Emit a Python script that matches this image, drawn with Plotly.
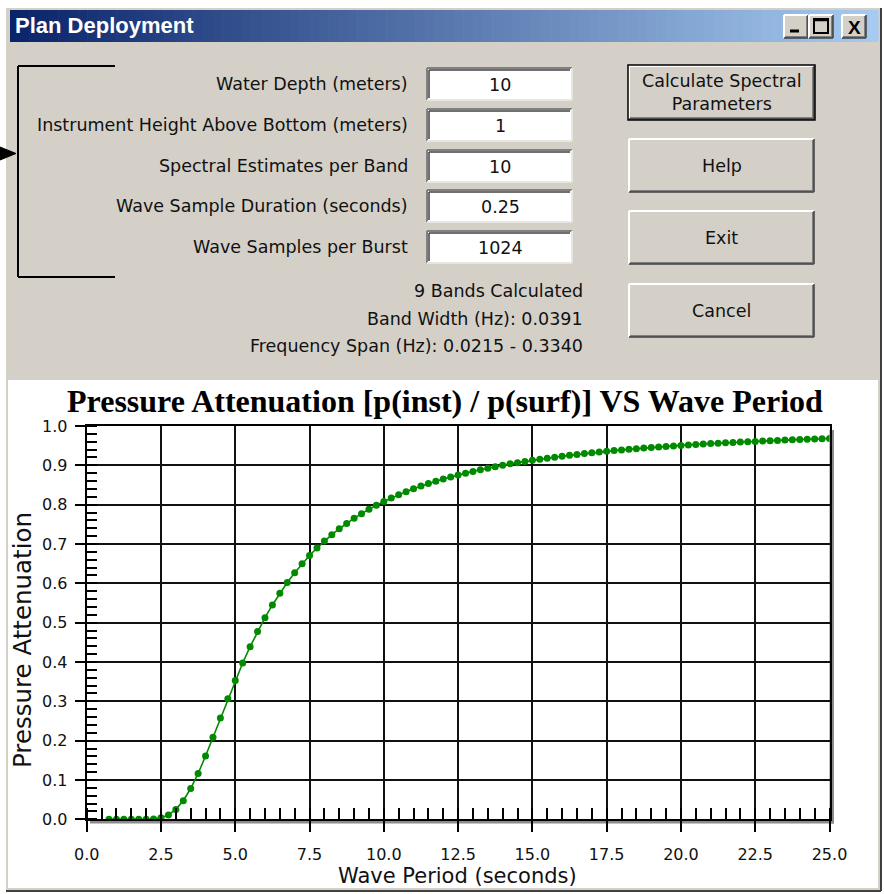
import plotly.graph_objects as go

W, H = 884, 894

# ---------------- data ----------------
periods = [0.75, 1.0, 1.25, 1.5, 1.75, 2.0, 2.25, 2.5, 2.75, 3.0, 3.25, 3.5, 3.75,
           4.0, 4.25, 4.5, 4.75, 5.0, 5.25, 5.5, 5.75, 6.0, 6.25, 6.5, 6.75,
           7.0, 7.25, 7.5, 7.75, 8.0, 8.25, 8.5, 8.75, 9.0, 9.25, 9.5, 9.75,
           10.0, 10.25, 10.5, 10.75, 11.0, 11.25, 11.5, 11.75, 12.0, 12.25, 12.5, 12.75,
           13.0, 13.25, 13.5, 13.75, 14.0, 14.25, 14.5, 14.75, 15.0, 15.25, 15.5, 15.75,
           16.0, 16.25, 16.5, 16.75, 17.0, 17.25, 17.5, 17.75, 18.0, 18.25, 18.5, 18.75,
           19.0, 19.25, 19.5, 19.75, 20.0, 20.25, 20.5, 20.75, 21.0, 21.25, 21.5, 21.75,
           22.0, 22.25, 22.5, 22.75, 23.0, 23.25, 23.5, 23.75, 24.0, 24.25, 24.5, 24.75, 25.0]
attenuation = [0.0, 0.0, 0.0, 0.0, 0.0, 0.0001, 0.0009, 0.0039, 0.0112, 0.0252, 0.0474, 0.0782, 0.1166,
               0.1609, 0.2086, 0.2577, 0.3063, 0.3531, 0.3975, 0.4388, 0.4772, 0.5126, 0.5450, 0.5747, 0.6020,
               0.6267, 0.6497, 0.6706, 0.6897, 0.7076, 0.7237, 0.7388, 0.7524, 0.7652, 0.7772, 0.7884, 0.7987,
               0.8081, 0.8171, 0.8254, 0.8331, 0.8403, 0.8472, 0.8536, 0.8596, 0.8652, 0.8704, 0.8755, 0.8801,
               0.8846, 0.8888, 0.8928, 0.8967, 0.9003, 0.9037, 0.9068, 0.9099, 0.9129, 0.9156, 0.9182, 0.9207,
               0.9232, 0.9255, 0.9277, 0.9299, 0.9319, 0.9338, 0.9357, 0.9375, 0.9392, 0.9408, 0.9424, 0.9439,
               0.9453, 0.9467, 0.9481, 0.9494, 0.9506, 0.9519, 0.9530, 0.9541, 0.9552, 0.9562, 0.9572, 0.9582,
               0.9591, 0.9601, 0.9609, 0.9618, 0.9626, 0.9634, 0.9642, 0.9649, 0.9656, 0.9663, 0.9670, 0.9677, 0.9683]

x_tick_vals = [0, 2.5, 5, 7.5, 10, 12.5, 15, 17.5, 20, 22.5, 25]
x_tick_text = ["0.0", "2.5", "5.0", "7.5", "10.0", "12.5", "15.0", "17.5", "20.0", "22.5", "25.0"]
y_tick_vals = [0, 0.1, 0.2, 0.3, 0.4, 0.5, 0.6, 0.7, 0.8, 0.9, 1.0]
y_tick_text = ["0.0", "0.1", "0.2", "0.3", "0.4", "0.5", "0.6", "0.7", "0.8", "0.9", "1.0"]

window_title = "Plan Deployment"
chart_title = "Pressure Attenuation [p(inst) / p(surf)] VS Wave Period"
x_title = "Wave Period (seconds)"
y_title = "Pressure Attenuation"
form_labels = ["Water Depth (meters)", "Instrument Height Above Bottom (meters)",
               "Spectral Estimates per Band", "Wave Sample Duration (seconds)",
               "Wave Samples per Burst"]
form_values = ["10", "1", "10", "0.25", "1024"]
info_lines = ["9 Bands Calculated", "Band Width (Hz): 0.0391",
              "Frequency Span (Hz): 0.0215 - 0.3340"]
button_labels = ["Calculate Spectral<br>Parameters", "Help", "Exit", "Cancel"]

# ---------------- helpers (pixel -> paper) ----------------
def PX(x):
    return x / W


def PY(y):
    return 1 - y / H


shapes = []
annotations = []

FACE = "#d4d0c8"
DARK = "#808080"
DARKER = "#404040"
UI_FONT = "DejaVu Sans"
UI_SIZE = 17.5


def rect(x0, y0, x1, y1, fill, line=None, lw=0, layer="above"):
    shapes.append(dict(type="rect", xref="paper", yref="paper",
                       x0=PX(x0), x1=PX(x1), y0=PY(y1), y1=PY(y0),
                       fillcolor=fill, layer=layer,
                       line=dict(color=line if line else fill, width=lw)))


def seg(x0, y0, x1, y1, color, lw=1, layer="above"):
    shapes.append(dict(type="line", xref="paper", yref="paper",
                       x0=PX(x0), x1=PX(x1), y0=PY(y0), y1=PY(y1),
                       layer=layer, line=dict(color=color, width=lw)))


def text(x, y, s, size=UI_SIZE, color="#111111", xanchor="center", family=UI_FONT,
         textangle=0, bold=False):
    if bold:
        s = "<b>" + s + "</b>"
    annotations.append(dict(x=PX(x), y=PY(y), xref="paper", yref="paper", text=s,
                            showarrow=False, xanchor=xanchor, yanchor="middle",
                            textangle=textangle, align="center",
                            font=dict(family=family, size=size, color=color)))


def raised(x0, y0, x1, y1, default=False):
    rect(x0, y0, x1, y1, FACE, layer="below")
    seg(x0, y0, x1, y0, "white", 2, layer="below")
    seg(x0, y0, x0, y1, "white", 2, layer="below")
    seg(x0 + 1, y1 - 1, x1 - 1, y1 - 1, DARK, 2, layer="below")
    seg(x1 - 1, y0 + 1, x1 - 1, y1 - 1, DARK, 2, layer="below")
    seg(x0, y1, x1, y1, DARKER, 1.5, layer="below")
    seg(x1, y0, x1, y1, DARKER, 1.5, layer="below")
    if default:
        rect(x0 - 1, y0 - 1, x1 + 1, y1 + 1, "rgba(0,0,0,0)", "black", 1.5, layer="below")


def sunken(x0, y0, x1, y1):
    rect(x0, y0, x1, y1, "white", layer="below")
    seg(x0, y0, x1, y0, DARK, 2, layer="below")
    seg(x0, y0, x0, y1, DARK, 2, layer="below")
    seg(x0 + 2, y0 + 2, x1 - 2, y0 + 2, DARKER, 1.5, layer="below")
    seg(x0 + 2, y0 + 2, x0 + 2, y1 - 2, DARKER, 1.5, layer="below")
    seg(x0, y1, x1, y1, "#e8e6e0", 2, layer="below")
    seg(x1, y0, x1, y1, "#e8e6e0", 2, layer="below")


# ---------------- window frame ----------------
rect(6, 8, 881, 891, FACE, layer="below")
seg(881, 8, 881, 891, DARKER, 2, layer="below")
seg(6, 891, 881, 891, DARKER, 2, layer="below")
# white chart panel
rect(8, 380, 878, 888, "white", layer="below")

# title bar gradient
c0 = (10, 36, 106)
c1 = (166, 202, 240)
n_strips = 90
x_start, x_end = 10, 878
for i in range(n_strips):
    t = i / (n_strips - 1)
    col = tuple(int(round(c0[k] + (c1[k] - c0[k]) * t)) for k in range(3))
    xa = x_start + (x_end - x_start) * i / n_strips
    xb = x_start + (x_end - x_start) * (i + 1) / n_strips + 0.6
    rect(xa, 10, xb, 42, "rgb(%d,%d,%d)" % col, layer="below")
text(13, 26, window_title, size=22, color="white", xanchor="left", bold=True,
     family="Liberation Sans Narrow, Liberation Sans")

# title bar buttons
for (bx0, bx1) in [(784, 808), (809, 833), (842, 866)]:
    raised(bx0, 15, bx1, 38)
seg(790, 31, 799, 31, "black", 3)
rect(814, 19, 828, 33, "rgba(0,0,0,0)", "black", 2, layer="above")
seg(814, 20, 828, 20, "black", 2.5)
text(854, 27, "X", size=19, color="black", family="Liberation Sans", bold=True)

# bracket + arrow
seg(18, 66, 115, 66, "black", 2)
seg(18, 277, 115, 277, "black", 2)
seg(18, 66, 18, 277, "black", 2)
shapes.append(dict(type="path", xref="paper", yref="paper",
                   path="M %f,%f L %f,%f L %f,%f Z" % (PX(0), PY(147), PX(16), PY(153.5), PX(0), PY(160)),
                   fillcolor="black", line=dict(color="black", width=1)))

# form rows
row_y = [84, 125, 166, 206, 247]
for lab, val, yc in zip(form_labels, form_values, row_y):
    text(410, yc, lab, xanchor="right")
    sunken(427, yc - 16, 572, yc + 16)
    text(500, yc + 1, val)

# info lines
for s, yc in zip(info_lines, [291, 319, 346]):
    text(585, yc, s, xanchor="right")

# buttons
btn_boxes = [(629, 66, 814, 119), (629, 139, 814, 192), (629, 211, 814, 264), (629, 284, 814, 337)]
for i, (lab, (bx0, by0, bx1, by1)) in enumerate(zip(button_labels, btn_boxes)):
    raised(bx0, by0, bx1, by1, default=(i == 0))
    text((bx0 + bx1) / 2, (by0 + by1) / 2, lab)

# chart title & axis titles
text(445, 401, chart_title, size=32, family="Liberation Serif", bold=True, color="black")
text(457, 876, x_title, size=21)
text(22, 640, y_title, size=24.5, textangle=-90)

# plot drop shadow
rect(829.5, 430, 834, 823.5, "#8c8c8c", layer="below")
rect(90, 819.3, 834, 823.5, "#8c8c8c", layer="below")

# ---------------- figure ----------------
fig = go.Figure()
fig.add_trace(go.Scatter(x=periods, y=attenuation, mode="lines+markers",
                         line=dict(color="#008a00", width=1.6),
                         marker=dict(size=7, color="#008a00", symbol="circle"),
                         hoverinfo="x+y", showlegend=False))

axis_font = dict(family="DejaVu Sans", size=16, color="#111111")
fig.update_layout(
    width=W, height=H,
    margin=dict(l=0, r=0, t=0, b=0),
    paper_bgcolor="white", plot_bgcolor="white",
    showlegend=False,
    shapes=shapes, annotations=annotations,
    xaxis=dict(domain=[PX(86.7), PX(829.5)], range=[0, 25], autorange=False,
               tickvals=x_tick_vals, ticktext=x_tick_text,
               ticks="outside", ticklen=11, tickwidth=1.6, tickcolor="black",
               showgrid=True, gridcolor="#111111", gridwidth=1.8,
               showline=True, linecolor="black", linewidth=2, mirror=True,
               zeroline=False, tickfont=axis_font, ticklabelstandoff=8,
               automargin=False,
               minor=dict(dtick=0.5, tick0=0, ticks="inside", ticklen=11,
                          tickwidth=1.5, tickcolor="black", showgrid=False)),
    yaxis=dict(domain=[PY(819.3), PY(426)], range=[0, 1], autorange=False,
               tickvals=y_tick_vals, ticktext=y_tick_text,
               ticks="outside", ticklen=10, tickwidth=1.6, tickcolor="black",
               showgrid=True, gridcolor="#111111", gridwidth=1.8,
               showline=True, linecolor="black", linewidth=2, mirror=True,
               zeroline=False, tickfont=axis_font, ticklabelstandoff=4,
               automargin=False,
               minor=dict(dtick=0.02, tick0=0, ticks="inside", ticklen=10,
                          tickwidth=1.5, tickcolor="black", showgrid=False)),
)

fig.write_html("out.html",
               config={"displayModeBar": False},
               post_script="document.body.style.margin='0px';"
                           "document.body.style.overflow='hidden';")
